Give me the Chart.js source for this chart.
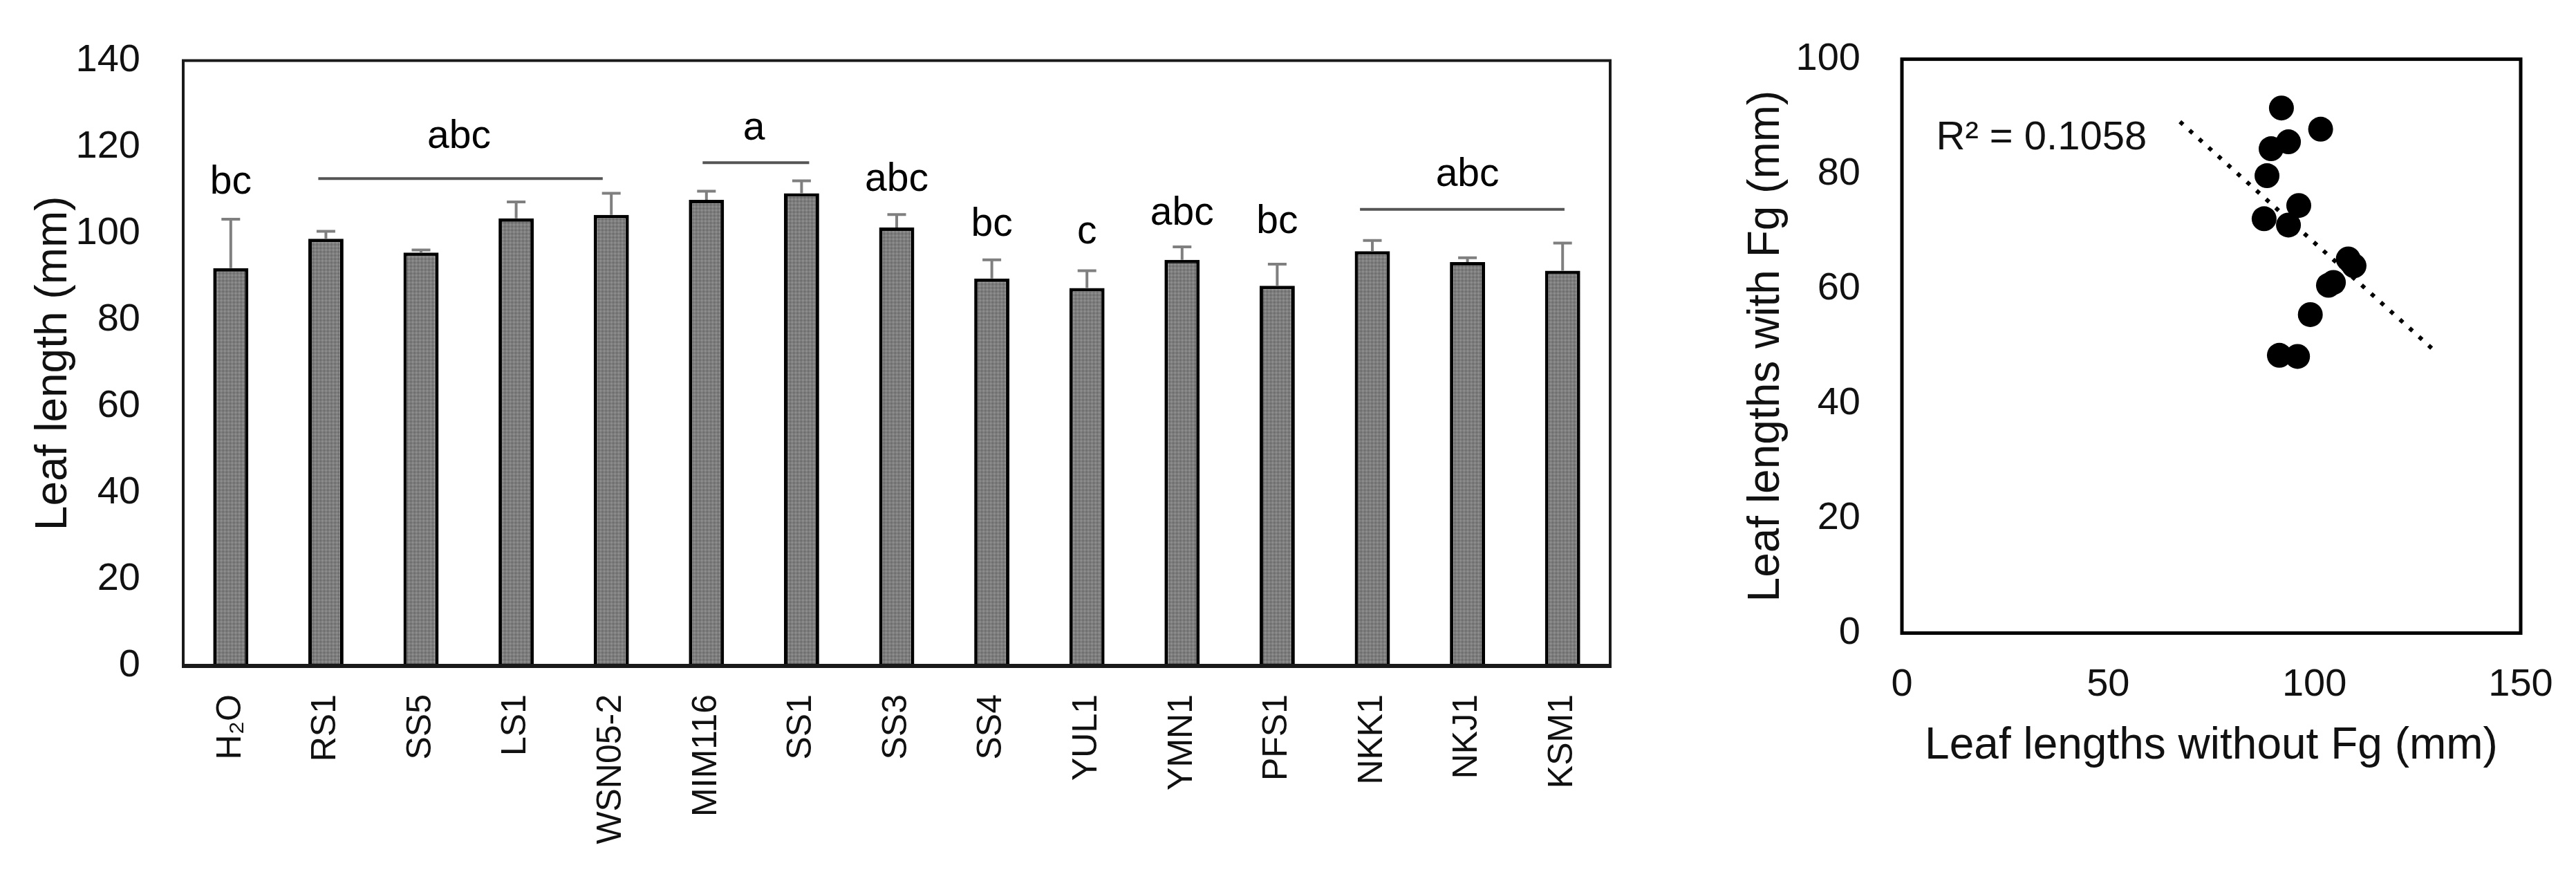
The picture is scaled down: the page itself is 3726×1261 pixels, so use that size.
<!DOCTYPE html>
<html><head><meta charset="utf-8">
<script src="https://cdn.jsdelivr.net/npm/chart.js@4.4.1/dist/chart.umd.min.js"></script>
<style>
html,body{margin:0;padding:0;background:#fff;width:3726px;height:1261px;overflow:hidden}
#c1{position:absolute;left:0;top:0}
#c2{position:absolute;left:2400px;top:0}
</style></head><body>
<canvas id="c1" width="2400" height="1261"></canvas>
<canvas id="c2" width="1326" height="1261"></canvas>
<script>
// ---- Bar chart data ----
const categories = ['H\u2082O','RS1','SS5','LS1','WSN05-2','MIM116','SS1','SS3','SS4','YUL1','YMN1','PFS1','NKK1','NKJ1','KSM1'];
const leafLength = [92.0, 98.8, 95.6, 103.5, 104.3, 107.8, 109.3, 101.4, 89.6, 87.4, 93.9, 87.9, 95.9, 93.4, 91.4];
const errorUp    = [11.3, 1.7, 0.6, 3.8, 5.0, 2.0, 2.9, 3.0, 4.3, 4.0, 3.0, 5.0, 2.5, 1.0, 6.4];
const letterText = ['bc','abc','a','abc','bc','c','abc','bc','abc'];
const letterPos  = [0, 2.4, 5.5, 7, 8, 9, 10, 11, 13];
const letterVal  = [109.3, 119.8, 121.7, 109.8, 99.4, 97.7, 102.1, 100.1, 111.0];
const groupFrom  = [0.92, 4.96, 11.87];
const groupTo    = [3.91, 6.08, 14.02];
const groupVal   = [112.7, 116.4, 105.6];

// ---- Scatter data ----
const withoutFg = [92.0, 101.5, 89.5, 93.7, 88.5, 96.2, 87.8, 93.7, 108.2, 109.6, 103.4, 104.6, 99.0, 91.5, 95.9];
const withFg    = [91.5, 87.8, 84.4, 85.6, 79.7, 74.5, 72.2, 71.1, 65.2, 64.0, 60.6, 61.1, 55.5, 48.4, 48.2];
const trendX = [67.4, 128.5];
const trendY = [89.1, 49.6];
const r2Label = 'R\u00B2 = 0.1058';

const FONT = '"Liberation Sans", Arial, sans-serif';
Chart.defaults.font.family = FONT;
Chart.defaults.color = '#111';

function makePattern(){
  const c = document.createElement('canvas'); c.width = 4; c.height = 4;
  const g = c.getContext('2d');
  g.fillStyle = '#707070'; g.fillRect(0,0,4,4);
  g.fillStyle = '#f0f0f0'; [[0,0],[2,0],[0,2],[2,2]].forEach(p=>g.fillRect(p[0],p[1],1,1));
  g.fillStyle = '#262626'; [[1,1],[3,1],[1,3],[3,3]].forEach(p=>g.fillRect(p[0],p[1],1,1));
  return document.getElementById('c1').getContext('2d').createPattern(c,'repeat');
}

const barExtras = {
  id: 'barExtras',
  afterDatasetsDraw(chart){
    const {ctx, chartArea:a, scales:{x,y}} = chart;
    ctx.save();
    // error bars
    ctx.strokeStyle = '#7f7f7f'; ctx.lineWidth = 4; ctx.lineCap = 'butt';
    leafLength.forEach((v,i)=>{
      const px = x.getPixelForValue(i);
      const y0 = y.getPixelForValue(v), y1 = y.getPixelForValue(v + errorUp[i]);
      ctx.beginPath();
      ctx.moveTo(px, y0); ctx.lineTo(px, y1);
      ctx.moveTo(px - 13.5, y1); ctx.lineTo(px + 13.5, y1);
      ctx.stroke();
    });
    // group lines
    ctx.strokeStyle = '#555'; ctx.lineWidth = 4;
    groupVal.forEach((v,i)=>{
      const yy = y.getPixelForValue(v);
      ctx.beginPath();
      ctx.moveTo(x.getPixelForValue(groupFrom[i]), yy);
      ctx.lineTo(x.getPixelForValue(groupTo[i]), yy);
      ctx.stroke();
    });
    // letters
    ctx.fillStyle = '#000'; ctx.font = '57px ' + FONT;
    ctx.textAlign = 'center'; ctx.textBaseline = 'alphabetic';
    letterText.forEach((t,i)=>{
      ctx.fillText(t, x.getPixelForValue(letterPos[i]), y.getPixelForValue(letterVal[i]));
    });
    // frame
    ctx.strokeStyle = '#1a1a1a'; ctx.lineWidth = 4;
    ctx.strokeRect(a.left, a.top, a.width, a.height);
    ctx.lineWidth = 6;
    ctx.beginPath(); ctx.moveTo(a.left - 2, a.bottom); ctx.lineTo(a.right + 2, a.bottom); ctx.stroke();
    ctx.restore();
  }
};

new Chart(document.getElementById('c1'), {
  type: 'bar',
  data: {
    labels: categories,
    datasets: [{
      data: leafLength,
      backgroundColor: makePattern(),
      borderColor: '#000',
      borderWidth: 5,
      borderSkipped: 'start',
      barPercentage: 0.37,
      categoryPercentage: 1
    }]
  },
  options: {
    responsive: false, animation: false, devicePixelRatio: 1,
    layout: {padding: {left: 0, right: 71, top: 64, bottom: 0}},
    plugins: {legend: {display: false}, tooltip: {enabled: false}},
    scales: {
      x: {
        grid: {display: false}, border: {display: false},
        ticks: {autoSkip: false, maxRotation: 90, minRotation: 90, padding: 33, color: '#111', font: {family: FONT, size: 50}},
        afterFit(s){ s.height = 298; }
      },
      y: {
        min: 0, max: 140,
        grid: {display: false}, border: {display: false},
        ticks: {stepSize: 20, padding: 54, color: '#111', font: {family: FONT, size: 56}},
        title: {display: true, text: 'Leaf length (mm)', color: '#111', font: {family: FONT, size: 64}, padding: {top: 40, bottom: 0}},
        afterFit(s){ s.width = 265; }
      }
    }
  },
  plugins: [barExtras]
});

const scatterExtras = {
  id: 'scatterExtras',
  afterDatasetsDraw(chart){
    const {ctx, chartArea:a, scales:{x,y}} = chart;
    ctx.save();
    ctx.strokeStyle = '#000'; ctx.lineWidth = 5;
    ctx.strokeRect(a.left, a.top, a.width, a.height);
    ctx.fillStyle = '#111'; ctx.font = '58px ' + FONT;
    ctx.textAlign = 'left'; ctx.textBaseline = 'alphabetic';
    ctx.fillText(r2Label, x.getPixelForValue(8.3), y.getPixelForValue(84.3));
    ctx.restore();
  }
};

new Chart(document.getElementById('c2'), {
  type: 'scatter',
  data: {
    datasets: [
      {
        type: 'line',
        data: trendX.map((v,i)=>({x: v, y: trendY[i]})),
        borderColor: '#000', borderWidth: 6, borderDash: [6, 12.6], borderCapStyle: 'butt',
        pointRadius: 0, fill: false, tension: 0, order: 2
      },
      {
        data: withoutFg.map((v,i)=>({x: v, y: withFg[i]})),
        pointRadius: 18, pointHoverRadius: 18, backgroundColor: '#000', borderColor: '#000', borderWidth: 0, order: 1
      }
    ]
  },
  options: {
    responsive: false, animation: false, devicePixelRatio: 1,
    layout: {padding: {left: 0, right: 80, top: 68, bottom: 0}},
    plugins: {legend: {display: false}, tooltip: {enabled: false}},
    scales: {
      x: {
        type: 'linear', min: 0, max: 150,
        grid: {display: false}, border: {display: false},
        ticks: {stepSize: 50, padding: 33, color: '#111', font: {family: FONT, size: 56}},
        title: {display: true, text: 'Leaf lengths without Fg (mm)', color: '#111', font: {family: FONT, size: 64}, padding: {top: 0, bottom: 143}},
        afterFit(s){ s.height = 345.5; }
      },
      y: {
        min: 0, max: 100,
        grid: {display: false}, border: {display: false},
        ticks: {stepSize: 20, padding: 52, color: '#111', font: {family: FONT, size: 56}},
        title: {display: true, text: 'Leaf lengths with Fg (mm)', color: '#111', font: {family: FONT, size: 64}, padding: {top: 117, bottom: 0}},
        afterFit(s){ s.width = 351; }
      }
    }
  },
  plugins: [scatterExtras]
});
</script>
</body></html>
